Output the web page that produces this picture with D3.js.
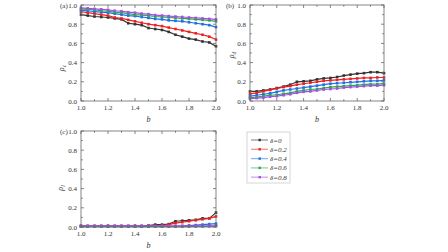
<!DOCTYPE html>
<html lang="en">
<head>
<meta charset="UTF-8">
<title>rho vs b</title>
<script src="https://d3js.org/d3.v7.min.js"></script>
<style>
  body { margin: 0; background: #fff; }
  svg { display: block; font-family: "Liberation Serif", "DejaVu Serif", serif; }
</style>
</head>
<body>
<svg id="chart" width="448" height="252"></svg>
<script>
// x values shared by all panels
const bVals = [1.00,1.05,1.10,1.15,1.20,1.25,1.30,1.35,1.40,1.45,1.50,1.55,1.60,1.65,1.70,1.75,1.80,1.85,1.90,1.95,2.00];
const deltaLabels = ["δ=0", "δ=0.2", "δ=0.4", "δ=0.6", "δ=0.8"];
const xTicks = [1.0, 1.2, 1.4, 1.6, 1.8, 2.0];
const yTicks = [0.0, 0.2, 0.4, 0.6, 0.8, 1.0];

// panel (a) rho_c
const rhoC = [
  [0.90,0.89,0.88,0.875,0.87,0.86,0.85,0.81,0.80,0.79,0.76,0.75,0.74,0.72,0.69,0.67,0.65,0.64,0.62,0.61,0.57],
  [0.93,0.92,0.91,0.90,0.89,0.87,0.86,0.845,0.83,0.815,0.80,0.79,0.78,0.765,0.75,0.735,0.72,0.705,0.69,0.67,0.64],
  [0.945,0.94,0.93,0.925,0.92,0.91,0.90,0.89,0.885,0.875,0.865,0.855,0.85,0.84,0.835,0.83,0.82,0.81,0.80,0.79,0.77],
  [0.96,0.955,0.95,0.94,0.935,0.925,0.92,0.91,0.90,0.895,0.89,0.88,0.875,0.87,0.865,0.86,0.855,0.85,0.845,0.84,0.83],
  [0.97,0.965,0.96,0.955,0.95,0.94,0.935,0.925,0.92,0.91,0.905,0.895,0.89,0.885,0.88,0.875,0.87,0.865,0.86,0.855,0.85]
];
// panel (b) rho_d
const rhoD = [
  [0.10,0.10,0.11,0.12,0.135,0.15,0.17,0.20,0.205,0.21,0.225,0.235,0.24,0.25,0.265,0.275,0.285,0.29,0.30,0.30,0.29],
  [0.075,0.085,0.10,0.115,0.13,0.145,0.155,0.17,0.18,0.19,0.20,0.21,0.215,0.22,0.225,0.23,0.235,0.24,0.24,0.245,0.245],
  [0.05,0.06,0.07,0.08,0.095,0.11,0.12,0.13,0.14,0.15,0.16,0.17,0.18,0.185,0.19,0.195,0.20,0.205,0.21,0.21,0.215],
  [0.035,0.04,0.05,0.06,0.065,0.075,0.085,0.10,0.11,0.12,0.125,0.135,0.145,0.15,0.155,0.16,0.165,0.17,0.175,0.175,0.18],
  [0.025,0.03,0.035,0.045,0.05,0.06,0.07,0.085,0.095,0.10,0.11,0.12,0.125,0.13,0.14,0.145,0.15,0.155,0.16,0.16,0.165]
];
// panel (c) rho_l
const rhoL = [
  [0.01,0.01,0.01,0.01,0.01,0.01,0.01,0.01,0.01,0.01,0.015,0.025,0.025,0.03,0.06,0.065,0.07,0.075,0.09,0.09,0.15],
  [0.01,0.01,0.01,0.01,0.01,0.01,0.01,0.01,0.01,0.01,0.01,0.01,0.015,0.025,0.04,0.05,0.06,0.07,0.08,0.09,0.11],
  [0.005,0.005,0.005,0.005,0.005,0.005,0.005,0.005,0.005,0.005,0.005,0.005,0.005,0.005,0.005,0.01,0.015,0.02,0.025,0.03,0.035],
  [0.004,0.004,0.004,0.004,0.004,0.004,0.004,0.004,0.004,0.004,0.004,0.004,0.004,0.004,0.004,0.004,0.005,0.005,0.006,0.008,0.01],
  [0.012,0.012,0.012,0.012,0.012,0.012,0.012,0.012,0.012,0.012,0.012,0.012,0.012,0.012,0.012,0.012,0.012,0.012,0.012,0.012,0.012]
];

const colors = ["#333333", "#f02020", "#1f6fe8", "#2aa84a", "#a050e0"];

const svg = d3.select("#chart");

const panels = [
  { tag: "(a)", sub: "c", data: rhoC, x0: 81, x1: 216, y0: 5, y1: 101, tagX: 60, labX: 64, labY: 68 },
  { tag: "(b)", sub: "d", data: rhoD, x0: 250, x1: 384, y0: 5, y1: 101, tagX: 226, labX: 234, labY: 55 },
  { tag: "(c)", sub: "l", data: rhoL, x0: 81, x1: 216, y0: 131, y1: 227, tagX: 60, labX: 63, labY: 188 }
];

panels.forEach(p => {
  const x = d3.scaleLinear().domain([1, 2]).range([p.x0, p.x1]);
  const y = d3.scaleLinear().domain([0, 1]).range([p.y1, p.y0]);
  const g = svg.append("g");

  // series (lines + little square markers)
  const line = d3.line().x((d, i) => x(bVals[i])).y(d => y(d));
  p.data.forEach((s, k) => {
    g.append("path").datum(s)
      .attr("d", line)
      .attr("fill", "none")
      .attr("stroke", colors[k])
      .attr("stroke-width", 1.2);
    g.selectAll(null).data(s).enter().append("rect")
      .attr("x", (d, i) => x(bVals[i]) - 1.3)
      .attr("y", d => y(d) - 1.3)
      .attr("width", 2.6).attr("height", 2.6)
      .attr("fill", colors[k]);
  });

  // frame + inward ticks on all sides
  const ax = g.append("g").attr("stroke", "#666").attr("stroke-width", 0.8);
  ax.append("rect").attr("x", p.x0).attr("y", p.y0)
    .attr("width", p.x1 - p.x0).attr("height", p.y1 - p.y0).attr("fill", "none");
  const minor = d3.range(0, 11).map(i => i / 10);
  minor.forEach((t, i) => {
    const len = i % 2 === 0 ? 3 : 1.8;
    const xv = x(1 + t), yv = y(t);
    ax.append("line").attr("x1", xv).attr("x2", xv).attr("y1", p.y1).attr("y2", p.y1 - len);
    ax.append("line").attr("x1", xv).attr("x2", xv).attr("y1", p.y0).attr("y2", p.y0 + len);
    ax.append("line").attr("y1", yv).attr("y2", yv).attr("x1", p.x0).attr("x2", p.x0 + len);
    ax.append("line").attr("y1", yv).attr("y2", yv).attr("x1", p.x1).attr("x2", p.x1 - len);
  });

  // tick labels
  g.selectAll(null).data(xTicks).enter().append("text")
    .attr("x", d => x(d)).attr("y", p.y1 + 9)
    .attr("text-anchor", "middle").attr("font-size", 7).attr("fill", "#333")
    .text(d => d.toFixed(1));
  g.selectAll(null).data(yTicks).enter().append("text")
    .attr("x", p.x0 - 4).attr("y", d => y(d) + 2.5)
    .attr("text-anchor", "end").attr("font-size", 7).attr("fill", "#333")
    .text(d => d.toFixed(1));

  // axis titles
  g.append("text").attr("x", (p.x0 + p.x1) / 2).attr("y", p.y1 + 21)
    .attr("text-anchor", "middle").attr("font-size", 8).attr("font-style", "italic")
    .attr("fill", "#333").text("b");
  const yl = g.append("text")
    .attr("transform", `translate(${p.labX},${p.labY}) rotate(-90)`)
    .attr("text-anchor", "middle").attr("font-size", 8).attr("font-style", "italic").attr("fill", "#333");
  yl.append("tspan").text("ρ");
  yl.append("tspan").attr("font-size", 5.5).attr("dy", 2).text(p.sub);

  g.append("text").attr("x", p.tagX).attr("y", p.y0 + 2.5)
    .attr("font-size", 7).attr("fill", "#333").text(p.tag);
});

// legend
const leg = svg.append("g");
leg.append("rect").attr("x", 247).attr("y", 132).attr("width", 43).attr("height", 51)
  .attr("fill", "#fff").attr("stroke", "#ccc").attr("stroke-width", 0.8);
deltaLabels.forEach((lab, k) => {
  const yy = 140 + k * 9.3;
  leg.append("line").attr("x1", 251).attr("x2", 268).attr("y1", yy).attr("y2", yy)
    .attr("stroke", colors[k]).attr("stroke-opacity", 0.5).attr("stroke-width", 1.3);
  leg.append("rect").attr("x", 258.5).attr("y", yy - 1.2).attr("width", 2.4).attr("height", 2.4)
    .attr("fill", colors[k]);
  leg.append("text").attr("x", 270).attr("y", yy + 2.5)
    .attr("font-size", 7).attr("font-style", "italic").attr("fill", "#333").text(lab);
});
</script>
</body>
</html>
